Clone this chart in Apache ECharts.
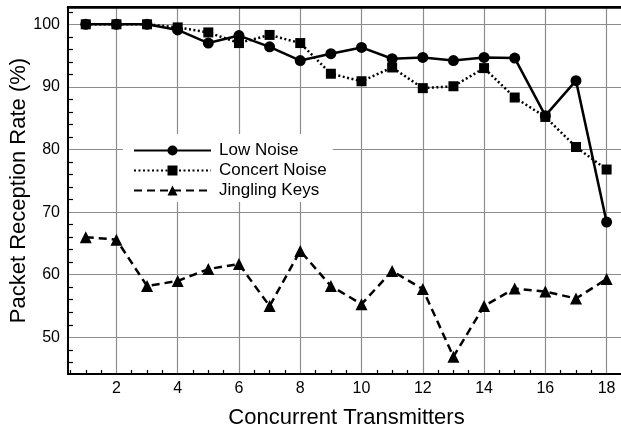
<!DOCTYPE html>
<html>
<head>
<meta charset="utf-8">
<script src="https://cdn.jsdelivr.net/npm/echarts@6/dist/echarts.min.js"></script>
<style>
html,body{margin:0;padding:0;background:#fff;}
#chart{width:621px;height:429px;}
</style>
</head>
<body>
<div id="chart"></div>
<script>
// ---- data ----
const transmitters = [1,2,3,4,5,6,7,8,9,10,11,12,13,14,15,16,17,18];
const lowNoise     = [100,100,100,99.1,97.0,98.2,96.4,94.2,95.3,96.3,94.5,94.7,94.2,94.7,94.6,85.4,91.0,68.4];
const concertNoise = [100,100,100,99.5,98.7,97.0,98.3,97.0,92.1,90.9,93.1,89.8,90.1,93.0,88.3,85.2,80.4,76.8];
const jinglingKeys = [66.0,65.6,58.2,59.0,60.9,61.7,55.0,63.8,58.2,55.3,60.6,57.7,46.9,55.0,57.8,57.3,56.2,59.3];
const xTickLabels = [2,4,6,8,10,12,14,16,18];
const yTickLabels = [50,60,70,80,90,100];
const seriesNames = ['Low Noise','Concert Noise','Jingling Keys'];

// minor tick positions
const xMinor = [];
for (let v = 0.5; v <= 18.5; v += 0.5) { if (v % 2 !== 0) xMinor.push(v); }
const yMinor = [];
for (let v = 46; v <= 102; v += 2) { if (v % 10 !== 0) yMinor.push(v); }

const X_MIN = 0.42, X_MAX = 18.6, Y_MIN = 44.14, Y_MAX = 102.76;
const FONT = '"Liberation Sans", Arial, Helvetica, sans-serif';
const PLOT_LEFT = 68, PLOT_W = 557;
const pxPerX = PLOT_W / (X_MAX - X_MIN);
const gridBase = {show: false, containLabel: false, outerBoundsMode: 'none', top: 7, right: -4, bottom: 55};
const gridBox = Object.assign({}, gridBase, {left: PLOT_LEFT});
// grid used only for vertical grid lines, starting at the first labelled tick (x = 2)
const vGridBox = Object.assign({}, gridBase, {left: PLOT_LEFT + (xTickLabels[0] - X_MIN) * pxPerX});

const pair = (xs, ys) => xs.map((x, i) => [x, ys[i]]);
const hiddenY = (gi) => ({type: 'value', gridIndex: gi, min: Y_MIN, max: Y_MAX,
  axisLine: {show: false}, axisTick: {show: false}, axisLabel: {show: false}, splitLine: {show: false}});

const chart = echarts.init(document.getElementById('chart'), null, {renderer: 'canvas'});
chart.setOption({
  animation: false,
  backgroundColor: '#fff',
  textStyle: {fontFamily: FONT},
  grid: [
    Object.assign({}, gridBox),
    Object.assign({}, gridBox),
    Object.assign({}, vGridBox),
    Object.assign({}, gridBox, {show: true, borderColor: '#000', borderWidth: 2, backgroundColor: 'rgba(0,0,0,0)'})
  ],
  legend: {
    data: seriesNames,
    orient: 'vertical',
    left: 123, top: 134,
    backgroundColor: '#fff',
    padding: [8, 6, 3, 10],
    itemWidth: 77, itemHeight: 12.5, itemGap: 3,
    textStyle: {fontFamily: FONT, fontSize: 17, color: '#000', padding: [0, 0, 0, 3]},
    z: 5
  },
  xAxis: [
    {
      type: 'value', gridIndex: 0, min: X_MIN, max: X_MAX,
      name: 'Concurrent Transmitters', nameLocation: 'middle', nameGap: 33, nameMoveOverlap: false,
      nameTextStyle: {fontFamily: FONT, fontSize: 22, color: '#000'},
      axisLine: {show: true, onZero: false, lineStyle: {color: '#000', width: 2}},
      axisTick: {show: false, customValues: xTickLabels},
      axisLabel: {customValues: xTickLabels, margin: 7, fontFamily: FONT, fontSize: 16, color: '#000'},
      splitLine: {show: false}
    },
    {
      type: 'value', gridIndex: 1, min: X_MIN, max: X_MAX,
      axisLine: {show: false},
      axisTick: {show: true, inside: true, length: 4, customValues: xMinor, lineStyle: {color: '#000', width: 1.2}},
      axisLabel: {show: false},
      splitLine: {show: false}
    },
    {
      type: 'value', gridIndex: 2, min: xTickLabels[0], max: X_MAX, interval: 2,
      axisLine: {show: false}, axisTick: {show: false}, axisLabel: {show: false},
      splitLine: {show: true, lineStyle: {color: '#8c8c8c', width: 1.2}}
    },
    {
      type: 'value', gridIndex: 3, position: 'top', min: X_MIN, max: X_MAX,
      axisLine: {show: true, onZero: false, lineStyle: {color: '#000', width: 2.5}},
      axisTick: {show: false}, axisLabel: {show: false}, splitLine: {show: false}
    }
  ],
  yAxis: [
    {
      type: 'value', gridIndex: 0, min: Y_MIN, max: Y_MAX, splitNumber: 6,
      name: 'Packet Reception Rate (%)', nameLocation: 'middle', nameGap: 38, nameMoveOverlap: false,
      nameTextStyle: {fontFamily: FONT, fontSize: 22, color: '#000'},
      axisLine: {show: true, onZero: false, lineStyle: {color: '#000', width: 2}},
      axisTick: {show: false, customValues: yTickLabels},
      axisLabel: {customValues: yTickLabels, margin: 8, fontFamily: FONT, fontSize: 16, color: '#000'},
      splitLine: {show: true, lineStyle: {color: '#8c8c8c', width: 1.2}}
    },
    {
      type: 'value', gridIndex: 1, min: Y_MIN, max: Y_MAX,
      axisLine: {show: false},
      axisTick: {show: true, inside: true, length: 5, customValues: yMinor, lineStyle: {color: '#000', width: 1.2}},
      axisLabel: {show: false},
      splitLine: {show: false}
    },
    hiddenY(2),
    hiddenY(3)
  ],
  series: [
    {
      name: seriesNames[0], type: 'line', xAxisIndex: 0, yAxisIndex: 0,
      data: pair(transmitters, lowNoise),
      symbol: 'circle', symbolSize: 11,
      lineStyle: {color: '#000', width: 2.5, type: 'solid'},
      itemStyle: {color: '#000'}, z: 3
    },
    {
      name: seriesNames[1], type: 'line', xAxisIndex: 0, yAxisIndex: 0,
      data: pair(transmitters, concertNoise),
      symbol: 'rect', symbolSize: 10,
      lineStyle: {color: '#000', width: 2.5, type: [2, 2.5]},
      itemStyle: {color: '#000'}, z: 3
    },
    {
      name: seriesNames[2], type: 'line', xAxisIndex: 0, yAxisIndex: 0,
      data: pair(transmitters, jinglingKeys),
      symbol: 'triangle', symbolSize: 12,
      lineStyle: {color: '#000', width: 2.5, type: [8, 5]},
      itemStyle: {color: '#000'}, z: 3
    }
  ]
});
</script>
</body>
</html>
